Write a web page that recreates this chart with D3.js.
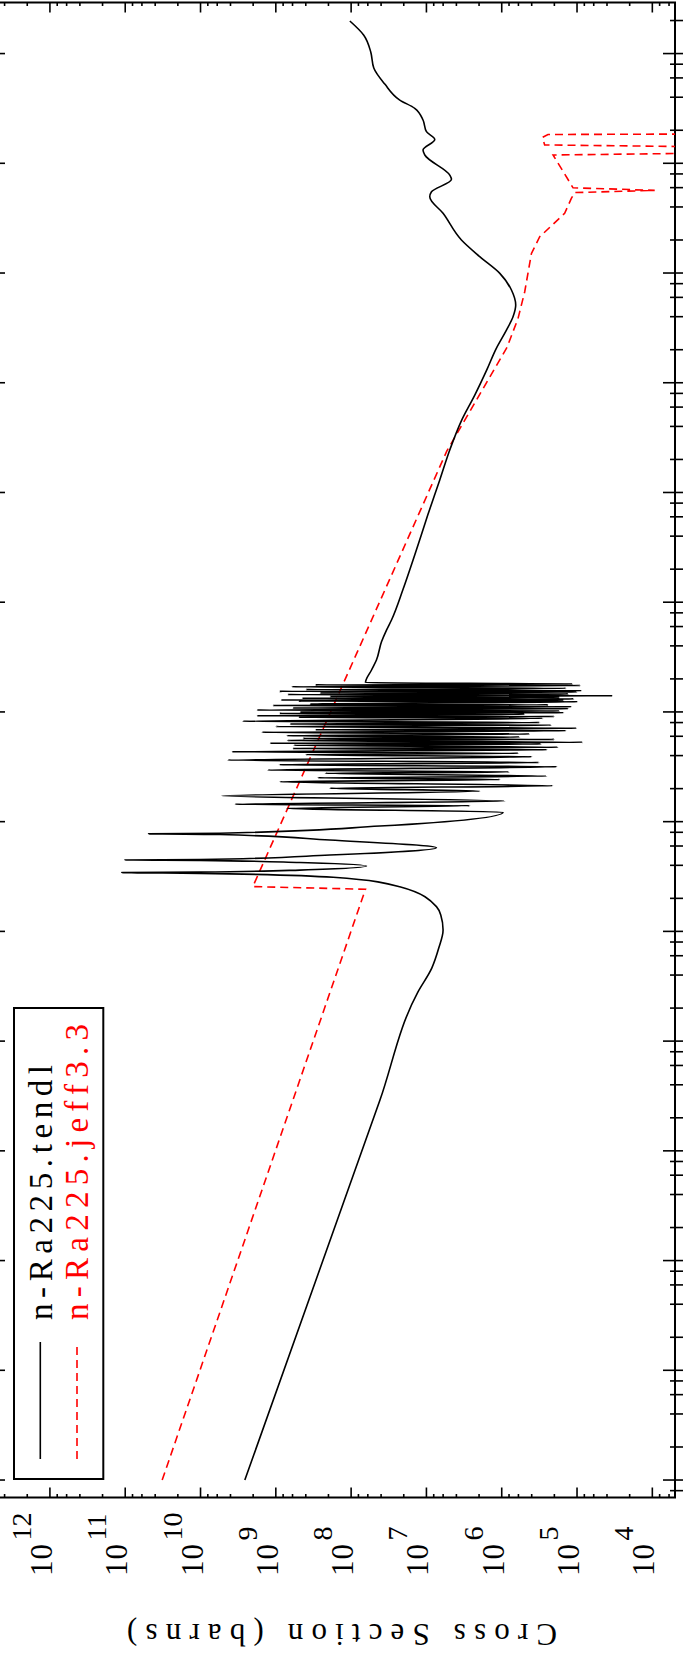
<!DOCTYPE html>
<html>
<head>
<meta charset="utf-8">
<script src="https://cdn.jsdelivr.net/npm/d3@7"></script>
<style>
  html, body { margin: 0; padding: 0; background: #fff; }
  svg { display: block; }
</style>
</head>
<body>
<svg id="chart" width="683" height="1665"></svg>
<script>
// n-Ra225 cross section, TENDL evaluation: incident energy (eV) and cross section (barns)
const tendlEnergy = [
  1e-5, 2.90e-2, 0.280, 0.463, 0.705, 1.03, 1.41, 1.68, 2.55, 3.11, 3.38, 3.43, 3.47, 3.62, 3.94,
  4.24, 4.44, 4.47, 4.51, 4.96, 5.78, 6.80, 7.63, 7.74, 7.84, 9.12, 12.2,
  13.2, 14.0, 14.4, 15.4, 17.2, 19.0, 20.2, 21.2, 23.1, 24.2, 25.1, 26.0, 27.6, 28.4, 29.5, 31.7,
  33.0, 34.6, 36.4, 39.0, 40.8, 42.0, 43.4, 45.3, 46.4, 47.6, 49.6, 51.0, 51.9, 52.8, 55.0, 56.2,
  57.4, 59.0, 60.7, 62.9, 65.2, 67.5, 68.8, 70.9, 73.5, 75.8, 77.6, 80.1, 82.1, 87.4, 89.5, 90.8,
  92.3, 95.1, 97.0, 98.3, 99.8, 102, 104, 107, 108.8, 111.5, 114.5, 116, 118, 123.8, 125.5, 127,
  128.3, 131.5, 133.4, 135.2, 138.1, 140.4, 144, 146, 148.6, 152, 154, 156, 160, 164, 169.6, 174,
  176.5, 179.6,
  184.5, 241, 297, 436, 557, 688, 1290, 2690, 6230, 1.30e4, 2.44e4, 4.57e4, 7.72e4,
  1.31e5, 2.06e5, 3.02e5, 3.99e5, 5.11e5, 7.00e5, 9.93e5, 1.41e6, 2.00e6, 3.50e6,
  4.95e6, 5.50e6, 7.14e6, 7.81e6, 1.19e7, 1.32e7, 1.65e7, 1.94e7, 2.48e7, 3.17e7,
  3.77e7, 5.27e7, 7.38e7, 1.03e8, 1.47e8, 1.98e8
];
const tendlSigma = [
  2.58e9, 4.14e7, 1.30e7, 8.49e6, 6.86e6, 6.01e6, 6.45e6, 7.36e6, 2.26e7, 1.73e8, 1.02e10, 1.11e11, 1.02e10, 4.80e8, 6.25e7,
  4.80e8, 1.02e10, 1.01e11, 1.02e10, 1.92e8, 7.36e6, 1.92e8, 5.54e9, 4.90e10, 5.54e9, 4.16e7, 9.60e5,
  7.14e8, 2.66e6, 3.50e9, 9.12e5, 5.21e9, 1.96e6, 1.92e8, 2.10e5, 8.85e8, 1.06e6, 2.77e8, 2.53e5, 2.2e8, 8.0e5, 1.28e9, 1.86e5,
  9.0e8, 3.2e5, 4.34e9, 4.00e5, 4.0e8, 6.0e5, 3.84e9, 2.5e5, 6.0e8, 1.80e5, 5.77e8, 3.0e5, 1.2e9, 8.41e4, 7.0e8, 2.0e5,
  4.38e8, 5.77e5, 7.14e8, 4.25e5, 1.53e9, 1.4e5, 3.0e8, 1.01e5, 1.0e9, 2.2e5, 6.52e8, 3.13e5, 2.74e9, 2.85e5, 5.0e8, 2.0e5,
  1.79e9, 4.95e5, 9.0e8, 1.5e5, 4.80e8, 1.70e5, 1.79e9, 1.3e5, 6.0e8, 1.18e5, 1.1e9, 2.4e5, 3.54e8, 9.79e4, 5.0e8, 1.5e5,
  8.58e8, 1.1e5, 4.5e8, 1.70e5, 1.92e8, 3.36e4, 7.0e8, 1.3e5, 2.60e8, 1.0e5, 9.0e8, 8.67e4, 4.0e8, 1.4e5, 6.13e8, 9.0e4,
  3.0e8, 1.14e5,
  6.45e7, 5.36e7, 4.61e7, 3.95e7, 3.39e7, 2.91e7, 2.06e7, 1.43e7, 9.60e6, 6.65e6, 4.90e6, 3.40e6, 2.28e6,
  1.58e6, 1.18e6, 8.66e5, 7.08e5, 6.52e5, 7.43e5, 1.06e6, 1.96e6, 3.43e6, 6.01e6,
  9.03e6, 8.57e6, 4.65e6, 4.90e6, 1.05e7, 1.11e7, 7.75e6, 9.99e6, 1.11e7, 1.43e7,
  2.26e7, 3.57e7, 5.00e7, 5.48e7, 6.79e7, 1.04e8
];

// JEFF-3.3 evaluation (0 where the cross section vanishes)
const jeffEnergy = [
  1e-5, 2.42, 2.56, 2.38e4, 2.10e5, 3.86e5, 6.75e5, 1.51e6, 2.14e6, 3.50e6, 4.79e6,
  5.41e6, 5.67e6, 5.98e6, 1.19e7, 1.24e7, 1.41e7, 1.47e7, 1.72e7, 1.83e7, 1.85e7
];
const jeffSigma = [
  3.23e10, 6.45e7, 2.02e9, 5.37e6, 8.50e5, 6.07e5, 4.95e5, 4.03e5, 3.13e5, 1.46e5, 1.19e5,
  1.07e5, 9.30e3, 1.13e5, 2.08e5, 0, 0, 2.69e5, 2.88e5, 2.43e5, 0
];

const sigmaExponents = [4, 5, 6, 7, 8, 9, 10, 11, 12];
const energyExponents = [-5, -4, -3, -2, -1, 0, 1, 2, 3, 4, 5, 6, 7, 8];
const minorMultipliers = [2, 4, 6, 8];
const seriesLabels = ["n-Ra225.tendl", "n-Ra225.jeff3.3"];
const seriesColors = ["#000000", "#ff0000"];
const sigmaTitle = "Cross Section (barns)";

const FONT = "'Liberation Serif', 'DejaVu Serif', serif";

// The plot is laid out landscape (energy along x, cross section along y)
// and the whole frame is turned a quarter turn counter-clockwise.
const W = 1495, H = 682;
const svg = d3.select("#chart");
const g = svg.append("g").attr("transform", "translate(-7,1497.5) rotate(-90)");

const x = d3.scaleLog().domain([6.93e-6, 2.92e8]).range([0, W]);
const y = d3.scaleLog().domain([5.7e12, 5.0e3]).range([0, H]);

svg.append("defs").append("clipPath").attr("id", "plotClip")
  .append("rect").attr("x", 0).attr("y", 0).attr("width", W).attr("height", H);

// ticks
const ticks = g.append("g").attr("stroke", "#000").attr("stroke-width", 1.6);
function tick(x1, y1, x2, y2) {
  ticks.append("line").attr("x1", x1).attr("y1", y1).attr("x2", x2).attr("y2", y2);
}
const [eLo, eHi] = x.domain();
energyExponents.forEach(n => {
  const px = x(Math.pow(10, n));
  tick(px, H - 12, px, H + 10);
  tick(px, 0, px, 12);
});
[-6, ...energyExponents].forEach(n => {
  minorMultipliers.forEach(m => {
    const v = m * Math.pow(10, n);
    if (v < eLo || v > eHi) return;
    const px = x(v);
    tick(px, H - 5, px, H + 10);
    tick(px, 0, px, 5);
  });
});
const [sHi, sLo] = y.domain();
sigmaExponents.forEach(n => {
  const py = y(Math.pow(10, n));
  tick(0, py, 10, py);
  tick(W - 10, py, W, py);
});
[3, ...sigmaExponents].forEach(n => {
  minorMultipliers.forEach(m => {
    const v = m * Math.pow(10, n);
    if (v < sLo || v > sHi) return;
    const py = y(v);
    tick(0, py, 3.5, py);
    tick(W - 3.5, py, W, py);
  });
});

// frame
g.append("rect").attr("x", 0).attr("y", 0).attr("width", W).attr("height", H)
  .attr("fill", "none").attr("stroke", "#000").attr("stroke-width", 2);

// cross-section tick labels: 10 with a raised exponent
const labels = g.append("g").attr("font-family", FONT).attr("fill", "#000");
sigmaExponents.forEach(n => {
  const py = y(Math.pow(10, n));
  labels.append("text").attr("x", -78.5).attr("y", py + 2)
    .attr("font-size", 31).attr("textLength", 32).text("10");
  labels.append("text").attr("x", -43).attr("y", py - 19)
    .attr("font-size", 28).text(String(n));
});

labels.append("text")
  .attr("transform", "translate(-137,349) rotate(-90)")
  .attr("text-anchor", "middle").attr("dominant-baseline", "central")
  .attr("font-size", 31).attr("textLength", 430).attr("lengthAdjust", "spacing")
  .text(sigmaTitle);

// curves
const curves = g.append("g").attr("clip-path", "url(#plotClip)");
const tendl = tendlEnergy.map((e, i) => ({ e, s: tendlSigma[i] }));
const jeff = jeffEnergy.map((e, i) => ({ e, s: jeffSigma[i] }));
const sy = s => (s > 0 ? y(s) : H + 40);

curves.append("path").datum(jeff)
  .attr("fill", "none").attr("stroke", seriesColors[1]).attr("stroke-width", 1.6)
  .attr("stroke-dasharray", "8,5")
  .attr("d", d3.line().x(d => x(d.e)).y(d => sy(d.s)));

curves.append("path").datum(tendl)
  .attr("fill", "none").attr("stroke", seriesColors[0]).attr("stroke-width", 1.6)
  .attr("stroke-linejoin", "round")
  .attr("d", d3.line().x(d => x(d.e)).y(d => sy(d.s)).curve(d3.curveMonotoneX));

// legend
const legend = g.append("g");
legend.append("rect").attr("x", 18.5).attr("y", 21).attr("width", 471).attr("height", 89.3)
  .attr("fill", "#fff").attr("stroke", "#000").attr("stroke-width", 2);
const legendRows = [47.3, 84];
const legendBase = [58.5, 95];
const legendLengths = [255, 296];
seriesLabels.forEach((label, i) => {
  legend.append("line").attr("x1", 38.5).attr("x2", 155.5)
    .attr("y1", legendRows[i]).attr("y2", legendRows[i])
    .attr("stroke", seriesColors[i]).attr("stroke-width", 1.6)
    .attr("stroke-dasharray", i === 1 ? "8,5" : null);
  legend.append("text").attr("x", 177.5).attr("y", legendBase[i])
    .attr("font-family", FONT).attr("font-size", 33)
    .attr("textLength", legendLengths[i]).attr("lengthAdjust", "spacing")
    .attr("fill", seriesColors[i]).text(label);
});
</script>
</body>
</html>
